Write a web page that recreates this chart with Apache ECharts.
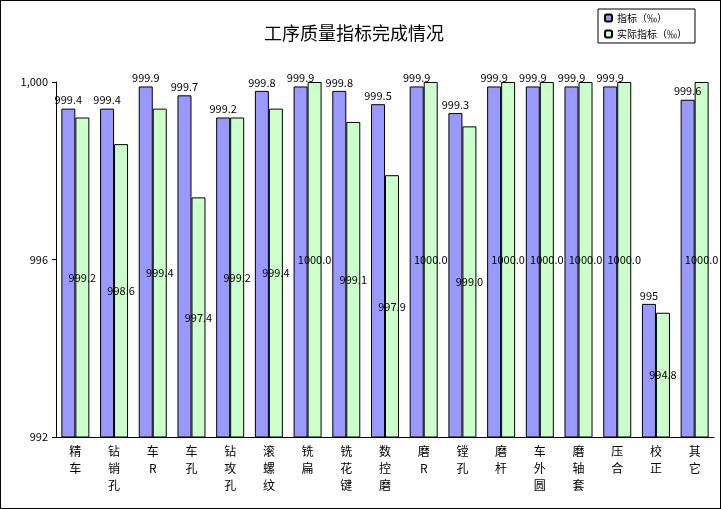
<!DOCTYPE html>
<html>
<head>
<meta charset="utf-8">
<script src="https://cdn.jsdelivr.net/npm/echarts@6/dist/echarts.min.js"></script>
<style>
html,body{margin:0;padding:0;background:#fff}
#main{width:719px;height:507px;border:1px solid #000}
</style>
</head>
<body>
<div id="main"></div>
<script>
const categories = ['精车','钻销孔','车R','车孔','钻攻孔','滚螺纹','铣扁','铣花键','数控磨','磨R','镗孔','磨杆','车外圆','磨轴套','压合','校正','其它']
const targetValues = ['999.4','999.4','999.9','999.7','999.2','999.8','999.9','999.8','999.5','999.9','999.3','999.9','999.9','999.9','999.9','995','999.6']
const actualValues = [999.2,998.6,999.4,997.4,999.2,999.4,1000,999.1,997.9,1000,999.0,1000,1000,1000,1000,994.8,1000]
const yTicks = [992, 996, 1000]

const font = '"Noto Sans CJK SC", sans-serif'
let chart = echarts.init(document.getElementById('main'))
const option = {
  animation:false,
  textStyle:{fontFamily:font},
  title:{
    text:'工序质量指标完成情况',
    left:258, top:18,
    textStyle:{fontSize:18, fontWeight:'normal', color:'#000', fontFamily:font}
  },
  legend:{
    orient:'vertical',
    left:597, top:8,
    itemWidth:7, itemHeight:7, itemGap:6,
    padding:[4,8,4,6],
    borderColor:'#000', borderWidth:1,
    textStyle:{fontSize:10, color:'#000', fontFamily:font},
    data:['指标（‰）','实际指标（‰）']
  },
  grid:{left:55, right:6, top:81, bottom:71},
  xAxis:{
    type:'category',
    data:categories,
    axisLine:{lineStyle:{color:'#000'}},
    axisTick:{lineStyle:{color:'#000'}, length:4},
    axisLabel:{
      color:'#000', fontSize:12, lineHeight:17, interval:0, margin:6,
      formatter:(v) => v.split('').join('\n')
    }
  },
  yAxis:{
    type:'value',
    min:yTicks[0], max:yTicks[yTicks.length-1], interval:4,
    splitLine:{show:false},
    axisLine:{show:true, lineStyle:{color:'#000'}},
    axisTick:{show:true, lineStyle:{color:'#000'}, length:4},
    axisLabel:{color:'#000', fontSize:11}
  },
  series:[
    {
      name:'指标（‰）',
      type:'bar',
      data:targetValues.map(Number),
      barWidth:14, barGap:'0%',
      itemStyle:{color:'#9999FF', borderColor:'#000', borderWidth:1},
      label:{
        show:true, position:'top', distance:3, color:'#000', fontSize:11,
        formatter:(p) => targetValues[p.dataIndex]
      }
    },
    {
      name:'实际指标（‰）',
      type:'bar',
      data:actualValues,
      barWidth:14,
      itemStyle:{color:'#CCFFCC', borderColor:'#000', borderWidth:1},
      label:{
        show:true, position:'inside', color:'#000', fontSize:11,
        formatter:(p) => p.value.toFixed(1)
      }
    }
  ]
}
option && chart.setOption(option)
</script>
</body>
</html>
